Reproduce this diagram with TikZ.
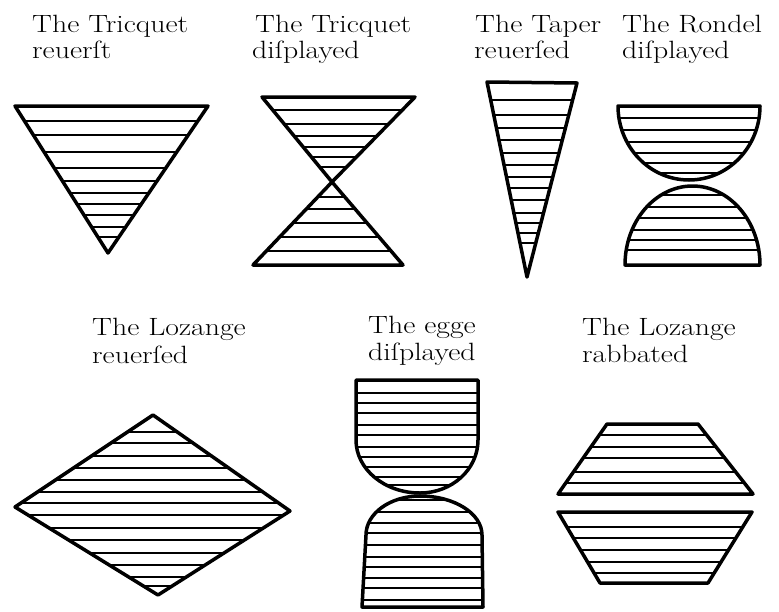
\documentclass[tikz,border=0pt]{standalone}
\usepackage{fontspec}
\newcommand{\wide}[1]{\scalebox{1.19}[1]{#1}}
\begin{document}
\begin{tikzpicture}[x=1pt,y=1pt,
  outline/.style={draw=black,line width=3.5pt,line join=round},
  hatch/.style={draw=black,line width=1.6pt},
  lbl/.style={anchor=base west,inner sep=0pt,font=\fontsize{25}{28}\selectfont}]
\useasboundingbox[fill=white] (0,0) rectangle (779,-611);

% ---- labels ----
\node[lbl] (t1a) at (32,-32) {\wide{The Tricquet}};
\node[lbl] (t1b) at (32,-58) {\wide{reuerſt}};
\node[lbl] (t2a) at (255,-32) {\wide{The Tricquet}};
\node[lbl] (t2b) at (252,-58) {\wide{diſplayed}};
\node[lbl] (t3a) at (475,-32) {\wide{The Taper}};
\node[lbl] (t3b) at (474,-58) {\wide{reuerſed}};
\node[lbl] (t4a) at (622,-32) {\wide{The Rondel}};
\node[lbl] (t4b) at (622,-58) {\wide{diſplayed}};
\node[lbl] (t5a) at (92,-335) {\wide{The Lozange}};
\node[lbl] (t5b) at (92,-363) {\wide{reuerſed}};
\node[lbl] (t6a) at (368,-333) {\wide{The egge}};
\node[lbl] (t6b) at (368,-360) {\wide{diſplayed}};
\node[lbl] (t7a) at (582,-335) {\wide{The Lozange}};
\node[lbl] (t7b) at (582,-362) {\wide{rabbated}};

% ---- Tricquet reversed ----
\begin{scope}
\clip (15,-106) -- (208,-106) -- (108,-253) -- cycle;
\foreach \y in {121,135,152,168,181,193,204,215,227,237}
  \draw[hatch] (0,-\y) -- (230,-\y);
\end{scope}
\draw[outline] (15,-106) -- (208,-106) -- (108,-253) -- cycle;

% ---- Tricquet displayed ----
\begin{scope}
\clip (262,-97) -- (415,-97) -- (332,-182) -- cycle;
\foreach \y in {110,124,136,147,157,167}
  \draw[hatch] (240,-\y) -- (430,-\y);
\end{scope}
\begin{scope}
\clip (332,-182) -- (403,-265) -- (253,-265) -- cycle;
\foreach \y in {197,209,223,237,251}
  \draw[hatch] (240,-\y) -- (430,-\y);
\end{scope}
\draw[outline] (262,-97) -- (415,-97) -- (332,-182) -- cycle;
\draw[outline] (332,-182) -- (403,-265) -- (253,-265) -- cycle;

% ---- Taper reversed ----
\begin{scope}
\clip (487,-82) -- (577,-83) -- (527,-277) -- cycle;
\foreach \y in {100,115,128,140,153,165,177,188,200,213,223,233,243}
  \draw[hatch] (470,-\y) -- (600,-\y);
\end{scope}
\draw[outline] (487,-82) -- (577,-83) -- (527,-277) -- cycle;

% ---- Rondel displayed ----
\begin{scope}
\clip (618,-106) -- (760,-106) arc[start angle=0,end angle=-180,x radius=71,y radius=74] -- cycle;
\foreach \y in {118,130,142,153,163,173}
  \draw[hatch] (600,-\y) -- (780,-\y);
\end{scope}
\draw[outline] (618,-106) -- (760,-106) arc[start angle=0,end angle=-180,x radius=71,y radius=74] -- cycle;
\begin{scope}
\clip (625,-265) arc[start angle=180,end angle=0,x radius=67.5,y radius=79] -- cycle;
\foreach \y in {195,207,218,230,240,250}
  \draw[hatch] (600,-\y) -- (780,-\y);
\end{scope}
\draw[outline] (625,-265) arc[start angle=180,end angle=0,x radius=67.5,y radius=79] -- cycle;

% ---- Lozange reversed ----
\begin{scope}
\clip (153,-415) -- (290,-511) -- (158,-595) -- (15,-507) -- cycle;
\foreach \y in {432,443,456,468,480,492,503,515,528,540,553,565,577,586}
  \draw[hatch] (0,-\y) -- (300,-\y);
\end{scope}
\draw[outline] (153,-415) -- (290,-511) -- (158,-595) -- (15,-507) -- cycle;

% ---- Egge displayed ----
\begin{scope}
\clip (356,-380) -- (478,-380) -- (478,-440)
  arc[start angle=0,end angle=-90,x radius=58,y radius=53]
  arc[start angle=-90,end angle=-180,x radius=64,y radius=53] -- cycle;
\foreach \y in {393,403,413,425,435,447,457,467,477,485}
  \draw[hatch] (340,-\y) -- (500,-\y);
\end{scope}
\draw[outline] (356,-380) -- (478,-380) -- (478,-440)
  arc[start angle=0,end angle=-90,x radius=58,y radius=53]
  arc[start angle=-90,end angle=-180,x radius=64,y radius=53] -- cycle;
\begin{scope}
\clip (420,-496) arc[start angle=90,end angle=180,x radius=54,y radius=39]
  -- (362,-607) -- (483,-607) -- (482,-535)
  arc[start angle=0,end angle=90,x radius=62,y radius=39] -- cycle;
\foreach \y in {500,512,523,533,545,557,567,578,588,600}
  \draw[hatch] (340,-\y) -- (500,-\y);
\end{scope}
\draw[outline] (420,-496) arc[start angle=90,end angle=180,x radius=54,y radius=39]
  -- (362,-607) -- (483,-607) -- (482,-535)
  arc[start angle=0,end angle=90,x radius=62,y radius=39] -- cycle;

% ---- Lozange rabbated ----
\begin{scope}
\clip (607,-424) -- (698,-424) -- (753,-494) -- (558,-494) -- cycle;
\foreach \y in {435,447,458,472,483}
  \draw[hatch] (540,-\y) -- (770,-\y);
\end{scope}
\draw[outline] (607,-424) -- (698,-424) -- (753,-494) -- (558,-494) -- cycle;
\begin{scope}
\clip (558,-512) -- (752,-512) -- (708,-583) -- (600,-583) -- cycle;
\foreach \y in {527,538,550,562,573}
  \draw[hatch] (540,-\y) -- (770,-\y);
\end{scope}
\draw[outline] (558,-512) -- (752,-512) -- (708,-583) -- (600,-583) -- cycle;
\end{tikzpicture}
\end{document}
